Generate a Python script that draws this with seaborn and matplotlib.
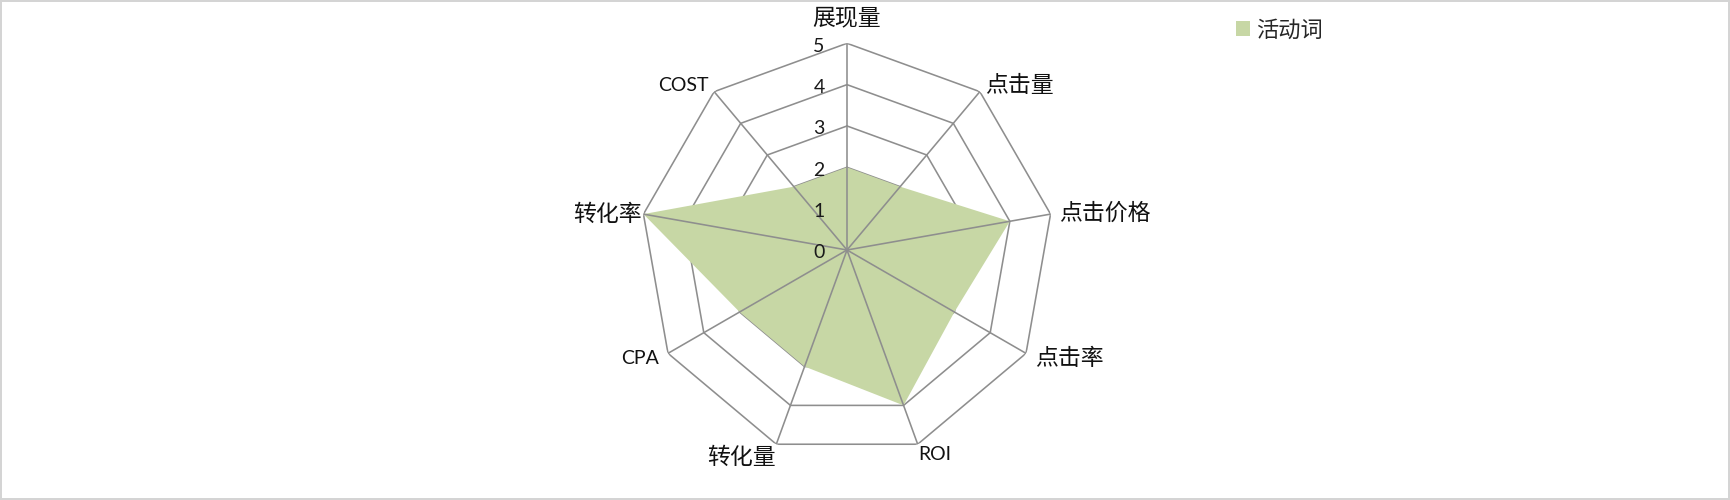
import numpy as np
import pandas as pd
import seaborn as sns
import matplotlib
matplotlib.use("Agg")
import matplotlib.pyplot as plt
from matplotlib.patches import Patch

# data
categories = ["展现量", "点击量", "点击价格", "点击率", "ROI", "转化量", "CPA", "转化率", "COST"]
values = [2, 2, 4, 3, 4, 3, 3, 5, 2]
series_name = "活动词"
r_ticks = [0, 1, 2, 3, 4, 5]

sns.set_theme(style="white")
plt.rcParams["font.family"] = ["Lato", "Noto Sans CJK SC", "DejaVu Sans"]

fill_color = "#C7D7A5"
grid_color = "#8E8E8E"

df = pd.DataFrame({"category": categories, "value": values})
n = len(df)
df["theta"] = np.arange(n) * 2 * np.pi / n

W, H = 1730, 500
fig = plt.figure(figsize=(W / 100, H / 100), dpi=100)
fig.patch.set_facecolor("white")
fig.patch.set_edgecolor("#D4D4D4")
fig.patch.set_linewidth(1.5)

cx, cy, rad = 847, 250, 206.7
ax = fig.add_axes([(cx - rad) / W, (H - cy - rad) / H, 2 * rad / W, 2 * rad / H],
                  projection="polar")
ax.set_theta_zero_location("N")
ax.set_theta_direction(-1)
ax.set_ylim(0, r_ticks[-1])
ax.grid(False)
ax.spines["polar"].set_visible(False)
ax.set_xticks([])
ax.set_yticks([])
ax.set_facecolor("none")

theta_closed = np.append(df["theta"].values, df["theta"].values[0])
vals_closed = np.append(df["value"].values, df["value"].values[0])

# polygon rings sit under the fill, spokes run over it (as in Excel)
for lvl in r_ticks[1:]:
    ax.plot(theta_closed, [lvl] * len(theta_closed), color=grid_color, lw=1.15, zorder=1)
ax.fill(theta_closed, vals_closed, color=fill_color, lw=0, zorder=2)
for t in df["theta"]:
    ax.plot([t, t], [0, r_ticks[-1]], color=grid_color, lw=1.15, zorder=3)

# radial tick labels along the top spoke
for lvl in r_ticks:
    ax.annotate(str(lvl), xy=(0, lvl), xytext=(-16, -2), textcoords="offset points",
                ha="right", va="center", fontsize=14, color="#1a1a1a", zorder=4)

# category labels
label_pos = {
    "展现量": (5.62, "center", "center"),
    "点击量": (5.2, "left", "center"),
    "点击价格": (5.2, "left", "center"),
    "点击率": (5.25, "left", "center"),
    "ROI": (5.05, "left", "top"),
    "转化量": (5.05, "right", "top"),
    "CPA": (5.25, "right", "center"),
    "转化率": (5.05, "right", "center"),
    "COST": (5.2, "right", "center"),
}
for _, row in df.iterrows():
    r, ha, va = label_pos[row["category"]]
    is_latin = row["category"].isascii()
    ax.text(row["theta"], r, row["category"], ha=ha, va=va,
            fontsize=14 if is_latin else 16.5, color="#111111")

handles = [Patch(facecolor=fill_color, edgecolor="none", label=series_name)]
fig.legend(handles=handles, loc="center left", bbox_to_anchor=(1236 / W, 1 - 30 / H),
           frameon=False, fontsize=16, handlelength=0.65, handleheight=0.65,
           handletextpad=0.25, borderpad=0, borderaxespad=0)

fig.savefig("out.png", dpi=100, facecolor=fig.get_facecolor(), edgecolor=fig.get_edgecolor())
